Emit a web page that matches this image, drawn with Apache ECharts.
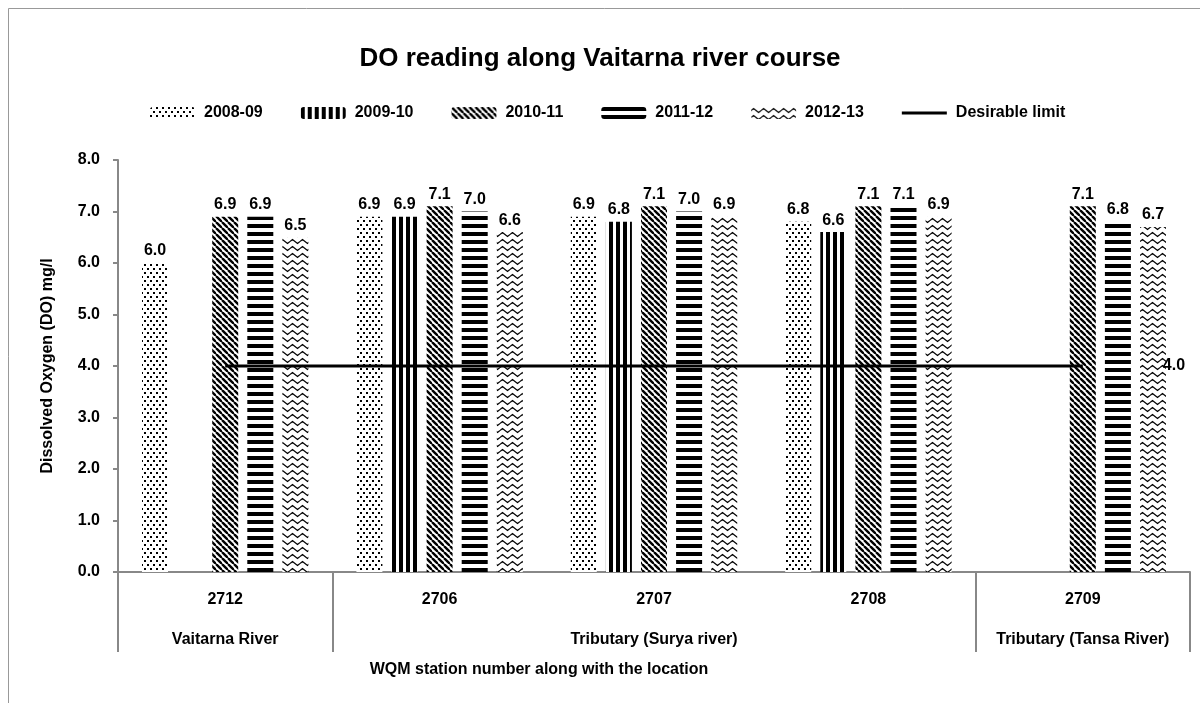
<!DOCTYPE html>
<html>
<head>
<meta charset="utf-8">
<title>DO reading along Vaitarna river course</title>
<script src="https://cdn.jsdelivr.net/npm/echarts@6.0.0/dist/echarts.min.js"></script>
<style>
  html, body { margin: 0; padding: 0; background: #fff; }
  #main { width: 1200px; height: 703px; }
</style>
</head>
<body>
<div id="main"></div>
<script>
// station codes and the river each one sits on
var stations = ['2712', '2706', '2707', '2708', '2709'];
var locations = ['Vaitarna River', '', 'Tributary (Surya river)', '', 'Tributary (Tansa River)'];
// group borders, in category units (0 = left edge of 2712)
var groupBorders = [0, 1, 4, 5];

// DO values (mg/l), null = no bar
var do0809 = [6.0, 6.9, 6.9, 6.8, null];
var do0910 = [null, 6.9, 6.8, 6.6, null];
var do1011 = [6.9, 7.1, 7.1, 7.1, 7.1];
var do1112 = [6.9, 7.0, 7.0, 7.1, 6.8];
var do1213 = [6.5, 6.6, 6.9, 6.9, 6.7];
var desirable = [4.0, 4.0, 4.0, 4.0, 4.0];

var yTicks = [0, 1, 2, 3, 4, 5, 6, 7, 8];

var FONT = "'Liberation Sans Narrow', 'Liberation Sans', Arial, sans-serif";

// black & white fill patterns like the excel chart
function makePattern(kind) {
  var c = document.createElement('canvas');
  var ctx;
  if (kind === 'dots') {
    c.width = 6; c.height = 8;
    ctx = c.getContext('2d');
    ctx.fillStyle = '#fff'; ctx.fillRect(0, 0, 6, 8);
    ctx.fillStyle = '#000';
    ctx.fillRect(0, 0, 2, 2);
    ctx.fillRect(3, 4, 2, 2);
  } else if (kind === 'vert') {
    c.width = 7; c.height = 2;
    ctx = c.getContext('2d');
    ctx.fillStyle = '#fff'; ctx.fillRect(0, 0, 7, 2);
    ctx.fillStyle = '#000'; ctx.fillRect(0, 0, 4, 2);
  } else if (kind === 'diag') {
    c.width = 6; c.height = 6;
    ctx = c.getContext('2d');
    ctx.fillStyle = '#fff'; ctx.fillRect(0, 0, 6, 6);
    ctx.strokeStyle = '#000'; ctx.lineWidth = 2.4;
    for (var k = -1; k <= 1; k++) {
      ctx.beginPath();
      ctx.moveTo(k * 6, 0);
      ctx.lineTo(k * 6 + 6, 6);
      ctx.stroke();
    }
  } else if (kind === 'horiz') {
    c.width = 2; c.height = 8;
    ctx = c.getContext('2d');
    ctx.fillStyle = '#fff'; ctx.fillRect(0, 0, 2, 8);
    ctx.fillStyle = '#000'; ctx.fillRect(0, 0, 2, 4);
  } else {
    c.width = 10; c.height = 7;
    ctx = c.getContext('2d');
    ctx.fillStyle = '#fff'; ctx.fillRect(0, 0, 10, 7);
    ctx.strokeStyle = '#000'; ctx.lineWidth = 1.2;
    ctx.beginPath();
    ctx.moveTo(0, 3.5);
    ctx.lineTo(2.5, 1.5);
    ctx.lineTo(5, 3.5);
    ctx.lineTo(7.5, 5.5);
    ctx.lineTo(10, 3.5);
    ctx.stroke();
  }
  return { image: c, repeat: 'repeat' };
}

function barSeries(name, data, kind) {
  return {
    name: name,
    type: 'bar',
    data: data,
    barWidth: 26,
    barGap: '35%',
    itemStyle: { color: makePattern(kind) },
    label: {
      show: true,
      position: 'top',
      distance: 4,
      color: '#000',
      fontFamily: FONT,
      fontWeight: 'bold',
      fontSize: 16,
      formatter: function (p) { return p.value.toFixed(1); }
    }
  };
}

var myChart = echarts.init(document.getElementById('main'));

var option = {
  backgroundColor: '#fff',
  animation: false,
  title: {
    text: 'DO reading along Vaitarna river course',
    left: 'center',
    top: 41,
    textStyle: {
      fontFamily: "'Liberation Sans', Arial, sans-serif",
      fontWeight: 'bold',
      fontSize: 26,
      color: '#000'
    }
  },
  legend: {
    top: 100,
    left: 145,
    itemWidth: 45,
    itemHeight: 12,
    itemGap: 38,
    textStyle: {
      fontFamily: FONT,
      fontWeight: 'bold',
      fontSize: 16,
      color: '#000',
      padding: [0, 0, 0, 4]
    },
    data: [
      '2008-09', '2009-10', '2010-11', '2011-12', '2012-13',
      { name: 'Desirable limit', icon: 'path://M0,0H45V3H0Z' }
    ]
  },
  grid: {
    left: 118,
    right: 10,
    top: 160,
    bottom: 131
  },
  xAxis: [{
    type: 'category',
    data: stations,
    axisLine: { lineStyle: { color: '#888', width: 2 } },
    axisTick: { show: false },
    axisLabel: {
      interval: 0,
      margin: 20,
      color: '#000',
      fontFamily: FONT,
      fontWeight: 'bold',
      fontSize: 16
    }
  }, {
    type: 'category',
    position: 'bottom',
    offset: 40,
    data: locations,
    axisLine: { show: false },
    axisTick: { show: false },
    axisLabel: {
      interval: 0,
      margin: 20,
      color: '#000',
      fontFamily: FONT,
      fontWeight: 'bold',
      fontSize: 16
    },
    name: 'WQM station number along with the location',
    nameLocation: 'middle',
    nameGap: 50,
    nameTextStyle: {
      color: '#000',
      fontFamily: FONT,
      fontWeight: 'bold',
      fontSize: 16,
      padding: [0, 230, 0, 0]
    }
  }, {
    // helper axis only for the group separator lines
    type: 'value',
    position: 'bottom',
    min: 0,
    max: stations.length,
    axisLine: { show: false },
    axisLabel: { show: false },
    splitLine: { show: false },
    axisTick: {
      show: true,
      customValues: groupBorders,
      length: 80,
      lineStyle: { color: '#888', width: 2 }
    }
  }],
  yAxis: {
    type: 'value',
    min: yTicks[0],
    max: yTicks[yTicks.length - 1],
    interval: 1,
    name: 'Dissolved Oxygen (DO) mg/l',
    nameLocation: 'middle',
    nameGap: 62,
    nameTextStyle: {
      color: '#000',
      fontFamily: FONT,
      fontWeight: 'bold',
      fontSize: 16
    },
    axisLine: { show: true, lineStyle: { color: '#888', width: 2 } },
    axisTick: { show: true, length: 5, lineStyle: { color: '#888', width: 2 } },
    splitLine: { show: false },
    axisLabel: {
      margin: 18,
      color: '#000',
      fontFamily: FONT,
      fontWeight: 'bold',
      fontSize: 16,
      formatter: function (v) { return v.toFixed(1); }
    }
  },
  graphic: [{
    type: 'rect',
    shape: { x: 8.5, y: 8.5, width: 1300, height: 800 },
    style: { fill: null, stroke: '#999', lineWidth: 1 },
    silent: true
  }],
  series: [
    barSeries('2008-09', do0809, 'dots'),
    barSeries('2009-10', do0910, 'vert'),
    barSeries('2010-11', do1011, 'diag'),
    barSeries('2011-12', do1112, 'horiz'),
    barSeries('2012-13', do1213, 'wave'),
    {
      name: 'Desirable limit',
      type: 'line',
      data: desirable,
      symbol: 'none',
      z: 5,
      lineStyle: { color: '#000', width: 3 },
      itemStyle: { color: '#000' },
      endLabel: {
        show: true,
        distance: 80,
        color: '#000',
        fontFamily: FONT,
        fontWeight: 'bold',
        fontSize: 16,
        formatter: function (p) { return p.value.toFixed(1); }
      }
    }
  ]
};

myChart.setOption(option);
window.onresize = function () {
  myChart.resize();
};
</script>
</body>
</html>
